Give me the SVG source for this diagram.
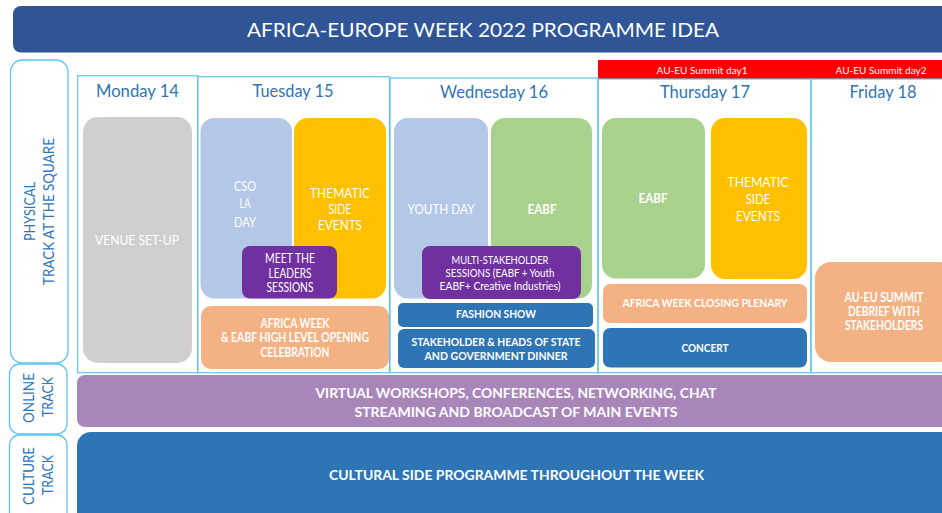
<svg xmlns="http://www.w3.org/2000/svg" width="942" height="513" viewBox="0 0 942 513">
<style>
text{font-family:Lato,"Open Sans","Liberation Sans",sans-serif;text-anchor:middle}
.frame{fill:none;stroke:#5BC5F2;stroke-width:1.2}
.lbl{fill:#fff;stroke:#5BC5F2;stroke-width:1.3}
.day{font-size:18px;fill:#2E75B6}
.trk{font-size:15px;fill:#2E75B6}
.w{fill:#fff}
.b{font-weight:bold}
</style>
<rect width="942" height="513" fill="#fff"/>
<g id="title">
<rect x="13" y="6" width="940" height="46.5" rx="8" fill="#2F5597"/>
<text class="w" x="483" y="37.3" font-size="20" textLength="472" lengthAdjust="spacingAndGlyphs">AFRICA-EUROPE WEEK 2022 PROGRAMME IDEA</text>
</g>
<g id="track-physical">
<rect class="lbl" x="10.5" y="60" width="57.5" height="303" rx="12"/>
<text class="trk" transform="translate(35,211.5) rotate(-90)" textLength="59" lengthAdjust="spacingAndGlyphs">PHYSICAL</text>
<text class="trk" transform="translate(54.3,211.5) rotate(-90)" textLength="147" lengthAdjust="spacingAndGlyphs">TRACK AT THE SQUARE</text>
</g>
<g id="track-online">
<rect class="lbl" x="9.5" y="364" width="57.5" height="70" rx="10"/>
<text class="trk" transform="translate(34.3,398) rotate(-90)" textLength="50" lengthAdjust="spacingAndGlyphs">ONLINE</text>
<text class="trk" transform="translate(53.3,397) rotate(-90)" textLength="40" lengthAdjust="spacingAndGlyphs">TRACK</text>
</g>
<g id="track-culture">
<rect class="lbl" x="9.5" y="435" width="57.5" height="90" rx="10"/>
<text class="trk" transform="translate(34.3,476) rotate(-90)" textLength="58" lengthAdjust="spacingAndGlyphs">CULTURE</text>
<text class="trk" transform="translate(53.3,475) rotate(-90)" textLength="40" lengthAdjust="spacingAndGlyphs">TRACK</text>
</g>
<g id="summit-banner">
<rect x="598" y="60" width="350" height="19" fill="#FF0000"/>
<text class="w" x="702" y="73.5" font-size="10" textLength="91" lengthAdjust="spacingAndGlyphs">AU-EU Summit day1</text>
<text class="w" x="881" y="73.5" font-size="10" textLength="91" lengthAdjust="spacingAndGlyphs">AU-EU Summit day2</text>
</g>
<g id="day-monday">
<rect class="frame" x="77.7" y="75.7" width="120" height="297"/>
<text class="day" x="137.5" y="97" textLength="83" lengthAdjust="spacingAndGlyphs">Monday 14</text>
</g>
<g id="day-tuesday">
<rect class="frame" x="197.7" y="76.7" width="191.8" height="296"/>
<text class="day" x="293" y="97" textLength="81" lengthAdjust="spacingAndGlyphs">Tuesday 15</text>
</g>
<g id="day-wednesday">
<rect class="frame" x="390" y="78" width="208" height="294.7"/>
<text class="day" x="494" y="97.5" textLength="108" lengthAdjust="spacingAndGlyphs">Wednesday 16</text>
</g>
<g id="day-thursday">
<rect class="frame" x="598" y="79" width="213" height="293.7"/>
<text class="day" x="705" y="98" textLength="90" lengthAdjust="spacingAndGlyphs">Thursday 17</text>
</g>
<g id="day-friday">
<rect class="frame" x="811" y="79" width="140" height="293.7"/>
<text class="day" x="883" y="97.5" textLength="67" lengthAdjust="spacingAndGlyphs">Friday 18</text>
</g>
<g id="venue-setup">
<rect x="83" y="117" width="109" height="246" rx="15" fill="#D0CECE"/>
<text class="w" x="137" y="244.5" font-size="12.5" textLength="84" lengthAdjust="spacingAndGlyphs">VENUE SET-UP</text>
</g>
<g id="cso-la-day">
<rect x="200.5" y="118" width="91.5" height="180.5" rx="14" fill="#B4C7E7"/>
<text class="w" x="245" y="190.7" font-size="12.5" textLength="22" lengthAdjust="spacingAndGlyphs">CSO</text>
<text class="w" x="245" y="208.3" font-size="12.5" textLength="11" lengthAdjust="spacingAndGlyphs">LA</text>
<text class="w" x="245" y="226.7" font-size="12.5" textLength="22" lengthAdjust="spacingAndGlyphs">DAY</text>
</g>
<g id="thematic-tue">
<rect x="294" y="118" width="92" height="180.5" rx="14" fill="#FFC000"/>
<text class="w" x="340" y="197.5" font-size="13.5" textLength="60" lengthAdjust="spacingAndGlyphs">THEMATIC</text>
<text class="w" x="340" y="213.5" font-size="13.5" textLength="23" lengthAdjust="spacingAndGlyphs">SIDE</text>
<text class="w" x="340" y="230" font-size="13.5" textLength="44" lengthAdjust="spacingAndGlyphs">EVENTS</text>
</g>
<g id="meet-leaders">
<rect x="242" y="246" width="95" height="52.5" rx="8" fill="#7030A0"/>
<text class="w" x="290" y="263.3" font-size="12.5" textLength="50" lengthAdjust="spacingAndGlyphs">MEET THE</text>
<text class="w" x="290" y="277.7" font-size="12.5" textLength="43" lengthAdjust="spacingAndGlyphs">LEADERS</text>
<text class="w" x="290" y="292" font-size="12.5" textLength="47" lengthAdjust="spacingAndGlyphs">SESSIONS</text>
</g>
<g id="opening-celebration">
<rect x="201" y="306" width="188" height="63" rx="10" fill="#F4B183"/>
<text class="w b" x="295" y="328.3" font-size="12.5" textLength="69" lengthAdjust="spacingAndGlyphs">AFRICA WEEK</text>
<text class="w b" x="295" y="342.3" font-size="12.5" textLength="148" lengthAdjust="spacingAndGlyphs">&amp; EABF HIGH LEVEL OPENING</text>
<text class="w b" x="295" y="356.7" font-size="12.5" textLength="69" lengthAdjust="spacingAndGlyphs">CELEBRATION</text>
</g>
<g id="youth-day">
<rect x="394" y="118" width="94" height="180.5" rx="14" fill="#B4C7E7"/>
<text class="w" x="441" y="214.3" font-size="13" textLength="67" lengthAdjust="spacingAndGlyphs">YOUTH DAY</text>
</g>
<g id="eabf-wed">
<rect x="491" y="118" width="101" height="180.5" rx="14" fill="#A9D18E"/>
<text class="w b" x="542" y="214.3" font-size="12.5" textLength="29" lengthAdjust="spacingAndGlyphs">EABF</text>
</g>
<g id="multi-stakeholder">
<rect x="422" y="246" width="159" height="53" rx="8" fill="#7030A0"/>
<text class="w" x="500" y="263.7" font-size="10.5" textLength="97" lengthAdjust="spacingAndGlyphs">MULTI-STAKEHOLDER</text>
<text class="w" x="500" y="276.7" font-size="10.5" textLength="109" lengthAdjust="spacingAndGlyphs">SESSIONS (EABF + Youth</text>
<text class="w" x="500" y="289.7" font-size="10.5" textLength="121" lengthAdjust="spacingAndGlyphs">EABF+ Creative Industries)</text>
</g>
<g id="fashion-show">
<rect x="398" y="303" width="195" height="24" rx="5" fill="#2E75B6"/>
<text class="w b" x="496" y="318.3" font-size="11.5" textLength="80" lengthAdjust="spacingAndGlyphs">FASHION SHOW</text>
</g>
<g id="stakeholder-dinner">
<rect x="398" y="329" width="197" height="39" rx="6" fill="#2E75B6"/>
<text class="w b" x="496" y="345.7" font-size="11.5" textLength="169" lengthAdjust="spacingAndGlyphs">STAKEHOLDER &amp; HEADS OF STATE</text>
<text class="w b" x="496" y="360" font-size="11.5" textLength="143" lengthAdjust="spacingAndGlyphs">AND GOVERNMENT DINNER</text>
</g>
<g id="eabf-thu">
<rect x="602" y="118" width="103" height="160.5" rx="14" fill="#A9D18E"/>
<text class="w b" x="653" y="203.3" font-size="12.5" textLength="29" lengthAdjust="spacingAndGlyphs">EABF</text>
</g>
<g id="thematic-thu">
<rect x="711" y="118" width="96" height="161" rx="14" fill="#FFC000"/>
<text class="w" x="758" y="187.3" font-size="13.5" textLength="61" lengthAdjust="spacingAndGlyphs">THEMATIC</text>
<text class="w" x="758" y="204" font-size="13.5" textLength="25" lengthAdjust="spacingAndGlyphs">SIDE</text>
<text class="w" x="758" y="220.7" font-size="13.5" textLength="44" lengthAdjust="spacingAndGlyphs">EVENTS</text>
</g>
<g id="closing-plenary">
<rect x="603" y="284" width="204" height="39" rx="7" fill="#F4B183"/>
<text class="w b" x="705" y="307.3" font-size="12" textLength="165" lengthAdjust="spacingAndGlyphs">AFRICA WEEK CLOSING PLENARY</text>
</g>
<g id="concert">
<rect x="603" y="328" width="204" height="39.5" rx="7" fill="#2E75B6"/>
<text class="w b" x="705" y="351.7" font-size="12" textLength="47" lengthAdjust="spacingAndGlyphs">CONCERT</text>
</g>
<g id="summit-debrief">
<rect x="815" y="262" width="140" height="100" rx="16" fill="#F4B183"/>
<text class="w b" x="884" y="301.7" font-size="12.5" textLength="79" lengthAdjust="spacingAndGlyphs">AU-EU SUMMIT</text>
<text class="w b" x="884" y="316" font-size="12.5" textLength="72" lengthAdjust="spacingAndGlyphs">DEBRIEF WITH</text>
<text class="w b" x="884" y="330" font-size="12.5" textLength="78" lengthAdjust="spacingAndGlyphs">STAKEHOLDERS</text>
</g>
<g id="online-track">
<rect x="77" y="375" width="880" height="52" rx="8" fill="#A886BA"/>
<text class="w b" x="516" y="398.3" font-size="14" textLength="401" lengthAdjust="spacingAndGlyphs">VIRTUAL WORKSHOPS, CONFERENCES, NETWORKING, CHAT</text>
<text class="w b" x="516" y="416.7" font-size="14" textLength="323" lengthAdjust="spacingAndGlyphs">STREAMING AND BROADCAST OF MAIN EVENTS</text>
</g>
<g id="culture-track">
<rect x="77" y="432" width="880" height="95" rx="14" fill="#2E75B6"/>
<text class="w b" x="516.5" y="480" font-size="14" textLength="375" lengthAdjust="spacingAndGlyphs">CULTURAL SIDE PROGRAMME THROUGHOUT THE WEEK</text>
</g>
<g id="connectors"/>
</svg>
